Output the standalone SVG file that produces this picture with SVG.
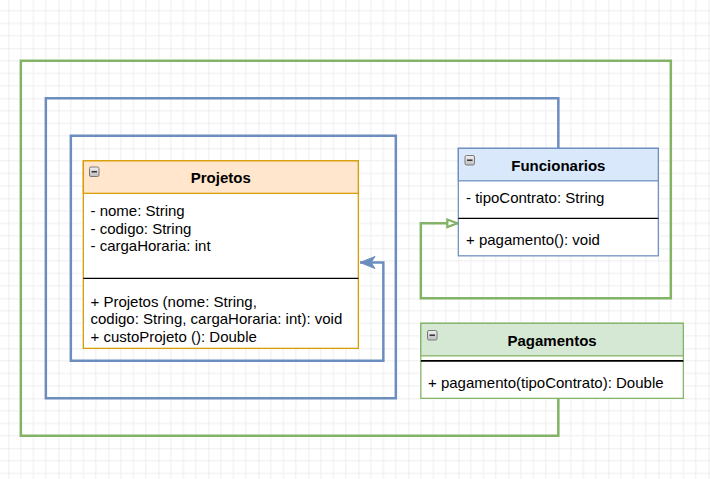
<svg xmlns="http://www.w3.org/2000/svg" width="710" height="479" viewBox="0 0 710 479">
  <style>
    .t { font-family: "Liberation Sans", Arial, sans-serif; font-size: 15px; fill: #000; }
    .h { font-family: "Liberation Sans", Arial, sans-serif; font-size: 15px; font-weight: bold; fill: #000; text-anchor: middle; }
    .body { fill: #ffffff; stroke-width: 1.25; }
    .sep { stroke: #000; stroke-width: 1.25; }
    .conn { fill: none; stroke-width: 2.5; stroke-linejoin: miter; }
    .ico { fill: url(#icoGrad); stroke: #7a7a7a; stroke-width: 1; }
    .icoM { stroke: #3a3a3a; stroke-width: 1.6; }
  </style>
  <defs>
    <pattern id="grid" patternUnits="userSpaceOnUse" x="8.33" y="-1.67" width="50" height="50">
      <path d="M12.5,0 V50 M25,0 V50 M37.5,0 V50 M0,12.5 H50 M0,25 H50 M0,37.5 H50" stroke="#eeeeee" stroke-width="1" fill="none"/>
      <path d="M0,0 V50 M0,0 H50" stroke="#dddddd" stroke-width="1" fill="none"/>
    </pattern>
    <linearGradient id="icoGrad" x1="0" y1="0" x2="0" y2="1">
      <stop offset="0" stop-color="#f2f2f2"/>
      <stop offset="1" stop-color="#bdbdbd"/>
    </linearGradient>
    <marker id="arrBlue" markerUnits="userSpaceOnUse" viewBox="-17 -8 19 16" markerWidth="19" markerHeight="16" refX="0" refY="0" orient="auto" overflow="visible">
      <path d="M0,0 L-15,-6 L-11,0 L-15,6 Z" fill="#6c8ebf" stroke="#6c8ebf" stroke-width="1"/>
    </marker>
    <marker id="arrGreen" markerUnits="userSpaceOnUse" viewBox="-14 -7 16 14" markerWidth="16" markerHeight="14" refX="0" refY="0" orient="auto" overflow="visible">
      <path d="M-1,0 L-11,-3.8 L-11,3.8 Z" fill="#ffffff" stroke="#82b366" stroke-width="2.2"/>
    </marker>
  </defs>

  <rect x="0" y="0" width="710" height="479" fill="#ffffff"/>
  <rect x="0" y="0" width="710" height="479" fill="url(#grid)"/>

  <g id="connectors">
    <path class="conn" stroke="#82b366" d="M558.33,398.33 V435.83 H20.83 V60.83 H670.83 V298.33 H420.83 V223.33 H458.33" marker-end="url(#arrGreen)"/>
    <path class="conn" stroke="#6c8ebf" d="M558.33,148.33 V98.33 H45.83 V398.33 H395.83 V135.83 H70.83 V360.83 H383.33 V262.5 H360" marker-end="url(#arrBlue)"/>
  </g>

  <g id="projetos">
    <rect class="body" x="83.33" y="160.83" width="275" height="187.5" stroke="#d79b00"/>
    <rect x="83.33" y="160.83" width="275" height="32.5" fill="#ffe6cc" stroke="#d79b00" stroke-width="1.25"/>
    <rect class="ico" x="89.5" y="167" width="9.5" height="9.5" rx="1.5"/>
    <line class="icoM" x1="91.5" y1="171.75" x2="97" y2="171.75"/>
    <text class="h" x="220.8" y="183">Projetos</text>
    <text class="t" x="90.5" y="216">- nome: String</text>
    <text class="t" x="90.5" y="233.5">- codigo: String</text>
    <text class="t" x="90.5" y="251">- cargaHoraria: int</text>
    <line class="sep" x1="83.33" y1="278.33" x2="358.33" y2="278.33"/>
    <text class="t" x="90.5" y="306.5">+ Projetos (nome: String,</text>
    <text class="t" x="90.5" y="324">codigo: String, cargaHoraria: int): void</text>
    <text class="t" x="90.5" y="341.5">+ custoProjeto (): Double</text>
  </g>

  <g id="funcionarios">
    <rect class="body" x="458.33" y="148.33" width="200" height="107.5" stroke="#6c8ebf"/>
    <rect x="458.33" y="148.33" width="200" height="32.5" fill="#dae8fc" stroke="#6c8ebf" stroke-width="1.25"/>
    <rect class="ico" x="465" y="155.5" width="9.5" height="9.5" rx="1.5"/>
    <line class="icoM" x1="467" y1="160.25" x2="472.5" y2="160.25"/>
    <text class="h" x="558.33" y="170.7">Funcionarios</text>
    <text class="t" x="466" y="203.3">- tipoContrato: String</text>
    <line class="sep" x1="458.33" y1="218.33" x2="658.33" y2="218.33"/>
    <text class="t" x="466" y="245">+ pagamento(): void</text>
  </g>

  <g id="pagamentos">
    <rect class="body" x="420.83" y="323.33" width="262.5" height="75" stroke="#82b366"/>
    <rect x="420.83" y="323.33" width="262.5" height="32.5" fill="#d5e8d4" stroke="#82b366" stroke-width="1.25"/>
    <rect class="ico" x="427.5" y="330.5" width="9.5" height="9.5" rx="1.5"/>
    <line class="icoM" x1="429.5" y1="335.25" x2="435" y2="335.25"/>
    <text class="h" x="552.08" y="345.6">Pagamentos</text>
    <line x1="420.83" y1="360.83" x2="683.33" y2="360.83" stroke="#000" stroke-width="1.8"/>
    <text class="t" x="428" y="387.7">+ pagamento(tipoContrato): Double</text>
  </g>
</svg>
